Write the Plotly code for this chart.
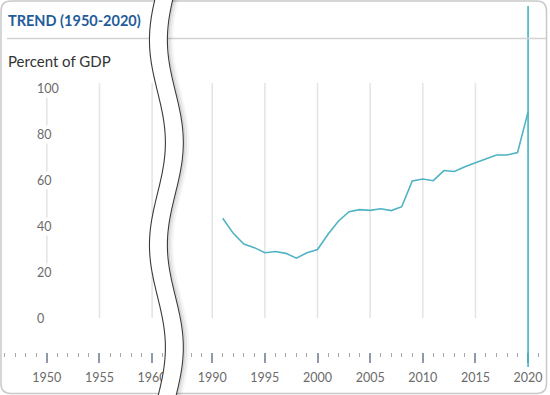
import numpy as np
import plotly.graph_objects as go

# ---------------- data ----------------
years = [1991, 1992, 1993, 1994, 1995, 1996, 1997, 1998, 1999, 2000,
         2001, 2002, 2003, 2004, 2005, 2006, 2007, 2008, 2009, 2010,
         2011, 2012, 2013, 2014, 2015, 2016, 2017, 2018, 2019, 2020]
pct_gdp = [43.4, 36.8, 32.2, 30.6, 28.4, 28.9, 28.1, 26.0, 28.4, 29.8,
           36.4, 42.2, 46.2, 47.1, 46.8, 47.5, 46.7, 48.4, 59.6, 60.4,
           59.7, 64.1, 63.7, 65.8, 67.5, 69.3, 70.9, 70.9, 71.9, 89.6]
y_ticks = [0, 20, 40, 60, 80, 100]
grid_left = [1950, 1955, 1960]
grid_right = [1990, 1995, 2000, 2005, 2010, 2015]
highlight_year = 2020
title_text = "TREND (1950-2020)"
unit_text = "Percent of GDP"

# ---------------- layout helpers (pixel -> paper) ----------------
W, H = 550, 395
def px(p):
    return p / W
def py(p):
    return 1 - p / H

PX_PER_YEAR = (530 - 213) / 30.0
PX_PER_UNIT = 2.3
ZERO_PX = 318
y_range = [(ZERO_PX - H) / PX_PER_UNIT, ZERO_PX / PX_PER_UNIT]
grid_top = (ZERO_PX - 83) / PX_PER_UNIT

split_px = 165
x1_lo = 1950 - 47 / PX_PER_YEAR
x1_hi = x1_lo + split_px / PX_PER_YEAR
x2_lo = 1990 - (213 - split_px) / PX_PER_YEAR
x2_hi = 2020 + (W - 530) / PX_PER_YEAR

FONT = "Lato"
line_color = "#4fb3c3"
axis_pos = py(352)

fig = go.Figure()
fig.add_trace(go.Scatter(
    x=years, y=pct_gdp, xaxis="x2", yaxis="y", mode="lines",
    line=dict(color=line_color, width=1.6), hoverinfo="skip", showlegend=False))

common_x = dict(
    anchor="free", position=axis_pos, tickmode="linear", dtick=5,
    ticks="outside", ticklen=10, tickwidth=1.5, tickcolor="#8f99aa",
    showline=False, showgrid=False, zeroline=False,
    tickfont=dict(family=FONT, size=12.5, color="#6b6b6b"),
    ticklabelstandoff=4,
    minor=dict(ticks="outside", ticklen=4, tickwidth=1.3, tickcolor="#a9a9a9",
               dtick=1, showgrid=False),
    fixedrange=True,
)
fig.update_layout(
    width=W, height=H,
    margin=dict(l=0, r=0, t=0, b=0, pad=0),
    paper_bgcolor="white", plot_bgcolor="rgba(0,0,0,0)",
    xaxis=dict(domain=[0, px(split_px)], range=[x1_lo, x1_hi], tick0=1950, **common_x),
    xaxis2=dict(domain=[px(split_px), 1], range=[x2_lo, x2_hi], tick0=1990, **common_x),
    yaxis=dict(domain=[0, 1], range=y_range, visible=False, fixedrange=True),
    showlegend=False,
)

shapes = []
# vertical gridlines
for yr in grid_left:
    shapes.append(dict(type="line", xref="x", yref="y", x0=yr, x1=yr,
                       y0=(20 if yr == 1950 else 0), y1=grid_top,
                       line=dict(color="#e4e4e4", width=1.5), layer="below"))
for yr in grid_right:
    shapes.append(dict(type="line", xref="x2", yref="y", x0=yr, x1=yr,
                       y0=0, y1=grid_top,
                       line=dict(color="#e4e4e4", width=1.5), layer="below"))
# highlight vertical line
shapes.append(dict(type="line", xref="x2", yref="paper", x0=highlight_year, x1=highlight_year,
                   y0=py(367), y1=py(6), line=dict(color="#3fb6c2", width=1.6), layer="above"))
# title rule
shapes.append(dict(type="line", xref="paper", yref="paper", x0=px(7), x1=px(548.5),
                   y0=py(38.5), y1=py(38.5), line=dict(color="#d2d2d2", width=1.5)))
# card border (rounded)
x0b, x1b, y0b, y1b, r = 1, 548.5, 1, 393.5, 10
def P(x, y):
    return f"{px(x):.5f},{py(y):.5f}"
card = (f"M {P(x0b + r, y0b)} L {P(x1b - r, y0b)} Q {P(x1b, y0b)} {P(x1b, y0b + r)} "
        f"L {P(x1b, y1b - r)} Q {P(x1b, y1b)} {P(x1b - r, y1b)} "
        f"L {P(x0b + r, y1b)} Q {P(x0b, y1b)} {P(x0b, y1b - r)} "
        f"L {P(x0b, y0b + r)} Q {P(x0b, y0b)} {P(x0b + r, y0b)} Z")
shapes.append(dict(type="path", xref="paper", yref="paper", path=card,
                   line=dict(color="#c9c9c9", width=1.5), layer="above"))

# axis-break squiggle
ys = np.linspace(-6, 401, 120)
xl = 158 - 8 * np.cos(2 * np.pi * (ys - 40) / 205)
xr = xl + 18
def poly(xs, yv):
    pts = [P(a, b) for a, b in zip(xs, yv)]
    return "M " + " L ".join(pts)
fill_path = poly(np.concatenate([xl, xr[::-1]]), np.concatenate([ys, ys[::-1]])) + " Z"
shapes.append(dict(type="path", xref="paper", yref="paper", path=fill_path,
                   fillcolor="white", line=dict(width=0), layer="above"))
for off, col, w in [(4.5, "rgba(0,0,0,0.04)", 3), (2.5, "rgba(0,0,0,0.08)", 2.5), (1.2, "rgba(0,0,0,0.12)", 1.5)]:
    shapes.append(dict(type="path", xref="paper", yref="paper", path=poly(xr + off, ys),
                       line=dict(color=col, width=w), layer="above"))
for xs in (xl, xr):
    shapes.append(dict(type="path", xref="paper", yref="paper", path=poly(xs, ys),
                       line=dict(color="#3a3a3a", width=1.1), layer="above"))

fig.update_layout(shapes=shapes)

annotations = [
    dict(text=f"<b>{title_text}</b>", x=px(6.5), y=py(21), xref="paper", yref="paper",
         xanchor="left", yanchor="middle", showarrow=False,
         font=dict(family=FONT, size=14.5, color="#1f5c99")),
    dict(text=unit_text, x=px(6.5), y=py(61), xref="paper", yref="paper",
         xanchor="left", yanchor="middle", showarrow=False,
         font=dict(family=FONT, size=15, color="#333333")),
]
for v in y_ticks:
    annotations.append(dict(text=str(v), x=px(35.5), y=v, xref="paper", yref="y",
                            xanchor="left", yanchor="middle", showarrow=False,
                            bgcolor="white",
                            font=dict(family=FONT, size=12.5, color="#6b6b6b")))
fig.update_layout(annotations=annotations)

fig.write_html("out.html", config={"displayModeBar": False},
               post_script="document.body.style.margin='0';document.body.style.overflow='hidden';")
